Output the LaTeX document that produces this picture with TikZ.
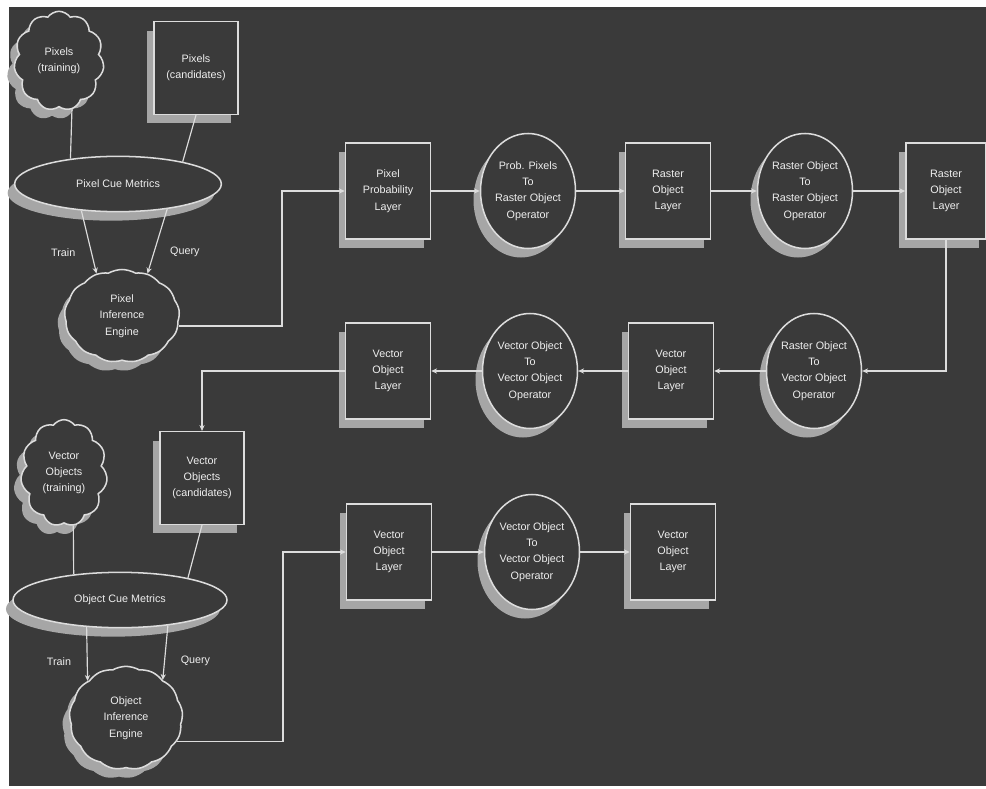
\documentclass[tikz,border=0pt]{standalone}
\usepackage{fontspec}
\setmainfont{Liberation Sans}
\usetikzlibrary{shapes.geometric,shapes.symbols,shadows,arrows.meta}
\definecolor{bgdark}{HTML}{3A3A3A}
\definecolor{lineg}{HTML}{DCDCDC}
\definecolor{shadowg}{HTML}{A6A6A6}
\definecolor{txtg}{HTML}{EEEEEE}
\begin{document}
\begin{tikzpicture}[x=0.03cm, y=-0.03cm]
\tikzstyle{base} = [draw = lineg, fill = bgdark, line width = 1.3pt, text = txtg, inner sep = 0pt, align = center,
  font = \fontsize{9.2}{14}\selectfont,
  drop shadow = {shadow xshift = -0.21cm, shadow yshift = -0.27cm, fill = shadowg, opacity = 1}]
\tikzstyle{layer} = [base, rectangle, minimum width = 2.55cm, minimum height = 2.88cm]
\tikzstyle{cand} = [base, rectangle, minimum width = 2.52cm, minimum height = 2.78cm]
\tikzstyle{oper} = [base, ellipse, minimum width = 2.85cm, minimum height = 3.45cm]
\tikzstyle{cue} = [base, ellipse, minimum width = 6.2cm, minimum height = 1.66cm]
\tikzstyle{blob} = [base, cloud, cloud puffs = 11, cloud puff arc = 110]
\tikzstyle{engine} = [base, cloud, cloud puffs = 13, cloud puff arc = 60, aspect = 1.2]
\tikzstyle{link} = [draw = lineg, line width = 1pt]
\tikzstyle{flow} = [link, -{Stealth[length = 5pt, width = 4.5pt]}]
\tikzstyle{tag} = [text = txtg, font = \fontsize{9.2}{14}\selectfont]

\useasboundingbox (0,0) rectangle (986,788);
\fill[white] (0,0) rectangle (986,788);
\fill[bgdark] (9,7) rectangle (986,786);

\node [blob, minimum width = 2.7cm, minimum height = 2.98cm] (pxtrain) at (59,61) {Pixels\\(training)};
\node [cand] (pxcand) at (196,68) {Pixels\\(candidates)};
\node [cue] (pxcue) at (118,184) {Pixel Cue Metrics};
\node [engine, minimum width = 3.45cm, minimum height = 2.79cm] (pxeng) at (122,316) {Pixel\\Inference\\Engine};

\node [layer] (pxprob) at (388,191) {Pixel\\Probability\\Layer};
\node [oper] (probop) at (528,191) {Prob. Pixels\\To\\Raster Object\\Operator};
\node [layer] (rstlayer1) at (668,191) {Raster\\Object\\Layer};
\node [oper] (rstop) at (805,191) {Raster Object\\To\\Raster Object\\Operator};
\node [layer, minimum width = 2.4cm] (rstlayer2) at (946,191) {Raster\\Object\\Layer};

\node [oper] (rst2vec) at (814,371) {Raster Object\\To\\Vector Object\\Operator};
\node [layer] (veclayer1) at (671,371) {Vector\\Object\\Layer};
\node [oper] (vec2vec1) at (530,371) {Vector Object\\To\\Vector Object\\Operator};
\node [layer] (veclayer2) at (388,371) {Vector\\Object\\Layer};

\node [blob, minimum width = 2.6cm, minimum height = 3.2cm] (vectrain) at (64,473) {Vector\\Objects\\(training)};
\node [cand] (veccand) at (202,478) {Vector\\Objects\\(candidates)};
\node [cue, minimum width = 6.42cm] (objcue) at (120,600) {Object Cue Metrics};
\node [engine, minimum width = 3.4cm, minimum height = 3.1cm] (objeng) at (126,718) {Object\\Inference\\Engine};

\node [layer] (veclayer3) at (389,552) {Vector\\Object\\Layer};
\node [oper] (vec2vec2) at (532,552) {Vector Object\\To\\Vector Object\\Operator};
\node [layer] (veclayer4) at (673,552) {Vector\\Object\\Layer};

\coordinate (elbow1) at (282,191);
\coordinate (elbow2) at (283,552);

\draw [link] (pxtrain.-75) -- (pxcue.152);
\draw [link] (pxcand.south) -- (pxcue.19);
\draw [flow] (pxcue.216) -- node [tag, pos = 0.67, left = 10pt] {Train} (pxeng.121);
\draw [flow] (pxcue.333) -- node [tag, pos = 0.67, right = 10pt] {Query} (pxeng.59);
\draw [flow] (pxeng.-10) -| (elbow1) -- (pxprob);

\draw [flow] (pxprob) -- (probop);
\draw [flow] (probop) -- (rstlayer1);
\draw [flow] (rstlayer1) -- (rstop);
\draw [flow] (rstop) -- (rstlayer2);
\draw [flow] (rstlayer2) |- (rst2vec);
\draw [flow] (rst2vec) -- (veclayer1);
\draw [flow] (veclayer1) -- (vec2vec1);
\draw [flow] (vec2vec1) -- (veclayer2);
\draw [flow] (veclayer2) -| (veccand);

\draw [link] (vectrain.-80) -- (objcue.151);
\draw [link] (veccand.south) -- (objcue.18);
\draw [flow] (objcue.219) -- node [tag, pos = 0.65, left = 10pt] {Train} (objeng.136);
\draw [flow] (objcue.332) -- node [tag, pos = 0.65, right = 10pt] {Query} (objeng.46);
\draw [flow] (objeng.-25) -| (elbow2) -- (veclayer3);

\draw [flow] (veclayer3) -- (vec2vec2);
\draw [flow] (vec2vec2) -- (veclayer4);
\end{tikzpicture}
\end{document}
